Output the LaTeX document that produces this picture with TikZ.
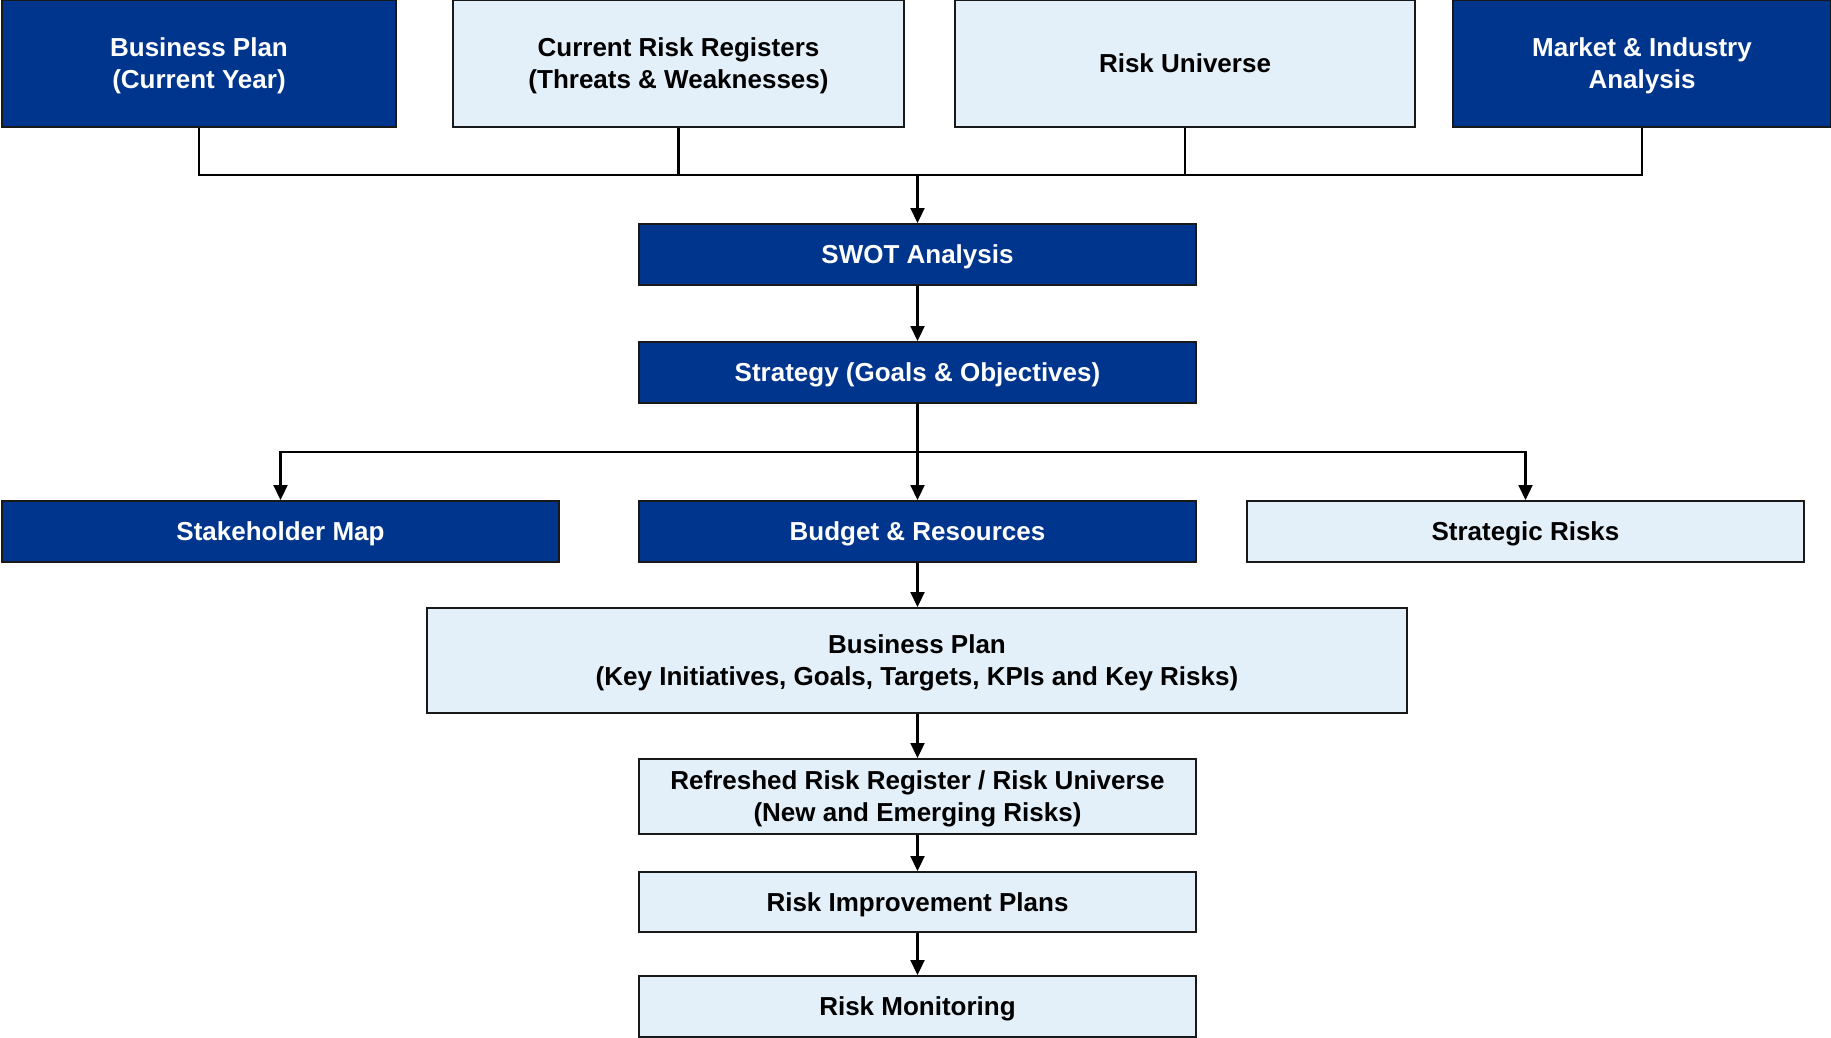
\documentclass[tikz,border=0pt]{standalone}
\usepackage{fontspec}
\setmainfont{Liberation Sans}
\usetikzlibrary{arrows.meta}
\definecolor{navy}{RGB}{0,53,141}
\definecolor{pale}{RGB}{227,239,249}
\definecolor{edge}{RGB}{25,25,25}
\tikzset{
  box/.style={draw=edge, line width=2pt, inner sep=0pt, align=center,
    text depth=0pt, font=\fontsize{26}{32}\selectfont\bfseries},
  darkbox/.style={box, fill=navy, text=white},
  lightbox/.style={box, fill=pale, text=black},
  link/.style={draw=black, line width=2.2pt},
  arr/.style={link, -{Triangle[width=14pt,length=15pt]}},
}
\newcommand{\boxat}[7]{% name, style, x1, y1, x2, y2, text
  \node[#2, minimum width={#5-#3}, minimum height={#6-#4}]
    (#1) at ({(#3+#5)/2},{(#4+#6)/2}) {#7};}
\begin{document}
\begin{tikzpicture}[x=1pt,y=-1pt]
\useasboundingbox (0,0) rectangle (1831,1037);
\fill[white] (0,0) rectangle (1831,1037);

% source boxes
\boxat{b1}{darkbox}{2}{0}{396}{127}{Business Plan\\(Current Year)}
\boxat{b2}{lightbox}{453}{0}{904}{127}{Current Risk Registers\\(Threats \& Weaknesses)}
\boxat{b3}{lightbox}{955}{0}{1415}{127}{Risk Universe}
\boxat{b4}{darkbox}{1453}{0}{1831}{127}{Market \& Industry\\Analysis}

% main column
\boxat{swot}{darkbox}{639}{224}{1196}{285}{SWOT Analysis}
\boxat{strat}{darkbox}{639}{342}{1196}{403}{Strategy (Goals \& Objectives)}
\boxat{stake}{darkbox}{2}{501}{559}{562}{Stakeholder Map}
\boxat{budget}{darkbox}{639}{501}{1196}{562}{Budget \& Resources}
\boxat{srisk}{lightbox}{1247}{501}{1804}{562}{Strategic Risks}
\boxat{bp}{lightbox}{427}{608}{1407}{713}{Business Plan\\(Key Initiatives, Goals, Targets, KPIs and Key Risks)}
\boxat{rr}{lightbox}{639}{759}{1196}{834}{Refreshed Risk Register / Risk Universe\\(New and Emerging Risks)}
\boxat{rip}{lightbox}{639}{872}{1196}{932}{Risk Improvement Plans}
\boxat{rm}{lightbox}{639}{976}{1196}{1037}{Risk Monitoring}

% collecting bus into the SWOT analysis
\coordinate (bus) at (swot.north |- 0,175);
\draw[link] (b1.south) |- (bus);
\draw[link] (b4.south) |- (bus);
\draw[link] (b2.south) -- (b2.south |- bus);
\draw[link] (b3.south) -- (b3.south |- bus);
\draw[arr] (bus) -- (swot.north);

\draw[arr] (swot.south) -- (strat.north);

% strategy branches
\coordinate (br) at (strat.south |- 0,452);
\draw[arr] (strat.south) -- (budget.north);
\draw[arr] (br) -| (stake.north);
\draw[arr] (br) -| (srisk.north);

\draw[arr] (budget.south) -- (budget.south |- bp.north);
\draw[arr] (budget.south |- bp.south) -- (rr.north);
\draw[arr] (rr.south) -- (rip.north);
\draw[arr] (rip.south) -- (rm.north);
\end{tikzpicture}
\end{document}
